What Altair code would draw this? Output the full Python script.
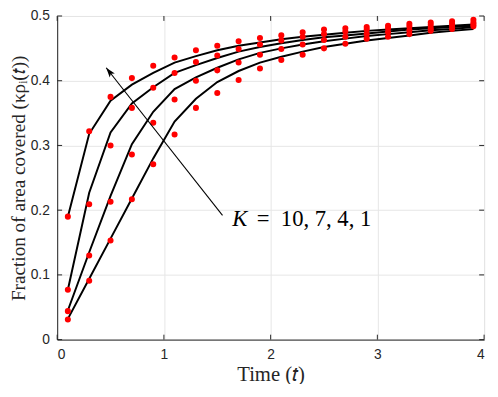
import altair as alt
import pandas as pd

# ---- data ----
t_vals = [0.1, 0.3, 0.5, 0.7, 0.9, 1.1, 1.3, 1.5, 1.7, 1.9,
          2.1, 2.3, 2.5, 2.7, 2.9, 3.1, 3.3, 3.5, 3.7, 3.9]
K_labels = ["10", "7", "4", "1"]

dots_K10 = [0.190, 0.322, 0.375, 0.404, 0.423, 0.436, 0.447, 0.454, 0.461, 0.466,
            0.470, 0.475, 0.479, 0.481, 0.483, 0.485, 0.488, 0.490, 0.492, 0.494]
dots_K7 = [0.077, 0.209, 0.300, 0.358, 0.389, 0.412, 0.429, 0.439, 0.449, 0.456,
           0.462, 0.468, 0.472, 0.476, 0.479, 0.481, 0.484, 0.486, 0.488, 0.490]
dots_K4 = [0.044, 0.130, 0.213, 0.286, 0.335, 0.371, 0.400, 0.416, 0.428, 0.440,
           0.449, 0.456, 0.463, 0.468, 0.472, 0.475, 0.478, 0.481, 0.484, 0.487]
dots_K1 = [0.031, 0.091, 0.153, 0.217, 0.271, 0.317, 0.358, 0.381, 0.401, 0.419,
           0.432, 0.440, 0.450, 0.457, 0.465, 0.468, 0.472, 0.477, 0.480, 0.484]

line_K10 = [0.190, 0.318, 0.369, 0.394, 0.412, 0.428, 0.438, 0.447, 0.454, 0.459,
            0.464, 0.468, 0.471, 0.474, 0.477, 0.479, 0.481, 0.483, 0.485, 0.487]
line_K7 = [0.077, 0.227, 0.320, 0.365, 0.390, 0.412, 0.424, 0.435, 0.445, 0.452,
           0.458, 0.463, 0.467, 0.470, 0.473, 0.476, 0.479, 0.481, 0.483, 0.485]
line_K4 = [0.045, 0.135, 0.222, 0.302, 0.352, 0.387, 0.405, 0.420, 0.433, 0.443,
           0.450, 0.456, 0.461, 0.465, 0.469, 0.472, 0.475, 0.478, 0.480, 0.483]
line_K1 = [0.032, 0.094, 0.156, 0.218, 0.280, 0.337, 0.372, 0.398, 0.415, 0.428,
           0.437, 0.445, 0.452, 0.457, 0.462, 0.466, 0.470, 0.474, 0.477, 0.480]

x_ticks = [0, 1, 2, 3, 4]
y_ticks = [0, 0.1, 0.2, 0.3, 0.4, 0.5]

arrow_x = [1.549, 0.459]
arrow_y = [0.192, 0.420]
label_x = [1.64]
label_y = [0.186]
label_rest_x = [1.87]

# ---- tables ----
dots_all = [dots_K10, dots_K7, dots_K4, dots_K1]
lines_all = [line_K10, line_K7, line_K4, line_K1]
dots_df = pd.DataFrame([{"t": t, "v": v, "K": k}
                        for k, vals in zip(K_labels, dots_all) for t, v in zip(t_vals, vals)])
lines_df = pd.DataFrame([{"t": t, "v": v, "K": k}
                         for k, vals in zip(K_labels, lines_all) for t, v in zip(t_vals, vals)])
arrow_df = pd.DataFrame({"t": arrow_x, "v": arrow_y, "o": [0, 1]})
head_df = pd.DataFrame({"t": arrow_x[1:], "v": arrow_y[1:]})
lab_df = pd.DataFrame({"t": label_x, "v": label_y, "s": ["K"]})
lab2_df = pd.DataFrame({"t": label_rest_x, "v": label_y, "s": ["=\u00a0 10, 7, 4, 1"]})
xt_df = pd.DataFrame({"t": x_ticks})
yt_df = pd.DataFrame({"v": y_ticks})

W, H = 434, 329
AX = "#262626"
SANS = "Liberation Sans"
SERIF = "Liberation Serif"

xscale = alt.Scale(domain=[0, 4], nice=False, zero=False)
yscale = alt.Scale(domain=[0, 0.5], nice=False, zero=False)

xenc = alt.X("t:Q", scale=xscale,
             axis=alt.Axis(values=x_ticks, title="Time (𝑡)", format="d",
                           labelFont=SANS, labelFontSize=14, labelColor=AX,
                           titleFont=SERIF, titleFontSize=21, titleFontWeight="normal",
                           titleColor=AX, labelPadding=8, titlePadding=3,
                           tickSize=0, domainColor=AX, gridColor="#e6e6e6"))
yenc = alt.Y("v:Q", scale=yscale,
             axis=alt.Axis(values=y_ticks, title="Fraction of area covered (κρᵢ(𝑡))",
                           labelExpr="datum.value == 0 ? '0' : format(datum.value, '.1f')",
                           labelFont=SANS, labelFontSize=14, labelColor=AX,
                           titleFont=SERIF, titleFontSize=19.5, titleFontWeight="normal",
                           titleColor=AX, labelPadding=8, titlePadding=2,
                           tickSize=0, domainColor=AX, gridColor="#e6e6e6"))

lines = alt.Chart(lines_df).mark_line(color="black", strokeWidth=2).encode(
    x=xenc, y=yenc, detail="K:N", order="t:Q")
dots = alt.Chart(dots_df).mark_circle(color="#ff0000", opacity=1, size=38).encode(
    x="t:Q", y="v:Q")
arrow = alt.Chart(arrow_df).mark_line(color="black", strokeWidth=1.1).encode(
    x="t:Q", y="v:Q", order="o:Q")
head = alt.Chart(head_df).mark_point(
    shape="M0,0 L0.42,1.3 L0,1.0 L-0.42,1.3 Z", filled=True, color="black",
    opacity=1, size=240, angle=322).encode(x="t:Q", y="v:Q")
lab = alt.Chart(lab_df).mark_text(font=SERIF, fontSize=23, fontStyle="italic",
                                  align="left", baseline="middle", color="black").encode(
    x="t:Q", y="v:Q", text="s:N")
lab2 = alt.Chart(lab2_df).mark_text(font=SERIF, fontSize=23,
                                    align="left", baseline="middle", color="black").encode(
    x="t:Q", y="v:Q", text="s:N")

tick_style = dict(color=AX, strokeWidth=1)
xt_bot = alt.Chart(xt_df).mark_rule(**tick_style).encode(
    x="t:Q", y=alt.value(H), y2=alt.value(H - 5))
xt_top = alt.Chart(xt_df).mark_rule(**tick_style).encode(
    x="t:Q", y=alt.value(0), y2=alt.value(5))
yt_left = alt.Chart(yt_df).mark_rule(**tick_style).encode(
    y="v:Q", x=alt.value(0), x2=alt.value(5))
yt_right = alt.Chart(yt_df).mark_rule(**tick_style).encode(
    y="v:Q", x=alt.value(W), x2=alt.value(W - 5))

chart = alt.layer(lines, dots, arrow, head, lab, lab2,
                  xt_bot, xt_top, yt_left, yt_right).properties(
    width=W, height=H,
    autosize=alt.AutoSizeParams(type="none"),
    padding={"left": 50, "top": 5, "right": 6, "bottom": 42},
).configure_view(stroke=AX, strokeWidth=1).configure(background="white")

chart.save("out.html", embed_options={"renderer": "svg", "actions": False})
